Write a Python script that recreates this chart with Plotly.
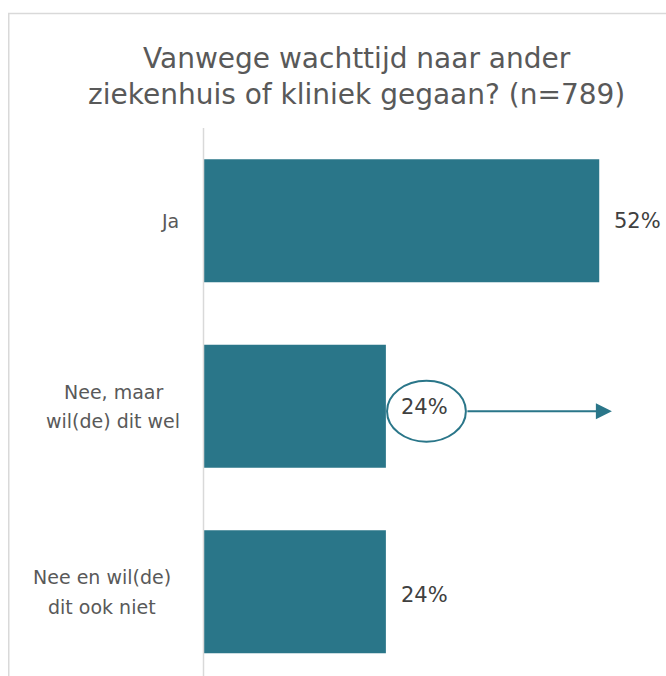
import plotly.graph_objects as go

categories = ["Ja", "Nee, maar<br>wil(de) dit wel", "Nee en wil(de)<br>dit ook niet"]
values = [52, 24, 24]
value_labels = ["52%", "24%", "24%"]
title_text = "Vanwege wachttijd naar ander<br>ziekenhuis of kliniek gegaan? (n=789)"

OFF = 0  # page body margin removed via post_script
W, H = 666, 676
L, T = 203 - OFF, 128 - OFF
plot_w = W - L
plot_h = H - T
PX_PER_UNIT = 7.62
xmax = plot_w / PX_PER_UNIT
ROW_PX = 185.5
bar_color = "#2a7689"
grey = "#595959"
font_family = "'DejaVu Sans', sans-serif"
# horizontal centre (page px) of each category label block
label_centers = [170, 113, 102]
value_label_yshift = [0, -1, -3]


def fx(page_x):
    return (page_x - OFF - L) / plot_w


def fy(page_y):
    return 1 + (T - (page_y - OFF)) / plot_h


idx = list(range(len(categories)))
fig = go.Figure(go.Bar(
    x=values, y=idx, orientation="h",
    marker=dict(color=bar_color, line=dict(width=0)),
    width=123 / ROW_PX, hoverinfo="skip",
))

annotations = []
LINE_SP = 29.5
for i, c in enumerate(categories):
    lines = c.split("<br>")
    n = len(lines)
    for j, ln in enumerate(lines):
        annotations.append(dict(
            x=fx(label_centers[i]), xref="paper", xanchor="center",
            y=i, yref="y", yanchor="middle",
            yshift=-((j - (n - 1) / 2) * LINE_SP),
            text=ln, showarrow=False,
            font=dict(family=font_family, size=19, color=grey),
        ))

# value labels
for i, (v, t) in enumerate(zip(values, value_labels)):
    annotations.append(dict(
        x=v, xref="x", xanchor="left", xshift=13,
        y=i, yref="y", yanchor="middle", yshift=value_label_yshift[i],
        text=t, showarrow=False,
        font=dict(family=font_family, size=21, color="#404040"),
    ))
# arrow from circle
v = values[1]
dy = 5 / ROW_PX
annotations.append(dict(
    x=v + (612 - 386) / PX_PER_UNIT, xref="x", y=1 + dy, yref="y",
    ax=v + (466 - 386) / PX_PER_UNIT, axref="x", ay=1 + dy, ayref="y",
    showarrow=True, arrowhead=2, arrowsize=1.6, arrowwidth=2,
    arrowcolor=bar_color, text="", standoff=0, startstandoff=0,
))
# title
annotations.append(dict(
    x=fx(356), xref="paper", xanchor="center",
    y=fy(76), yref="paper", yanchor="middle",
    text=title_text, showarrow=False, align="center",
    font=dict(family=font_family, size=28, color=grey),
))

shapes = [
    dict(type="line", xref="paper", yref="paper",
         x0=fx(8), x1=fx(700), y0=fy(13.5), y1=fy(13.5),
         line=dict(color="#d9d9d9", width=1.5)),
    dict(type="line", xref="paper", yref="paper",
         x0=fx(8.75), x1=fx(8.75), y0=fy(13.5), y1=fy(700),
         line=dict(color="#d9d9d9", width=1.5)),
    dict(type="line", xref="paper", yref="paper",
         x0=fx(203.5), x1=fx(203.5), y0=1, y1=fy(700),
         line=dict(color="#d9d9d9", width=1.5)),
    dict(type="circle", xref="x", yref="y",
         x0=v + 0.15, x1=v + (466 - 386) / PX_PER_UNIT,
         y0=1 + dy - 30.5 / ROW_PX, y1=1 + dy + 30.5 / ROW_PX,
         line=dict(color=bar_color, width=2), fillcolor="rgba(0,0,0,0)"),
]

fig.update_layout(
    width=W, height=H,
    margin=dict(l=L, r=0, t=T, b=0),
    paper_bgcolor="white", plot_bgcolor="white",
    showlegend=False,
    xaxis=dict(range=[0, xmax], visible=False, fixedrange=True),
    yaxis=dict(range=[-0.5 + plot_h / ROW_PX, -0.5], showticklabels=False,
               showgrid=False, zeroline=False, showline=False, fixedrange=True),
    annotations=annotations,
    shapes=shapes,
)

fig.write_html(
    "out.html",
    config={"displayModeBar": False},
    post_script="document.body.style.margin='0';document.body.style.overflow='hidden';"
                "document.documentElement.style.overflow='hidden';",
)
